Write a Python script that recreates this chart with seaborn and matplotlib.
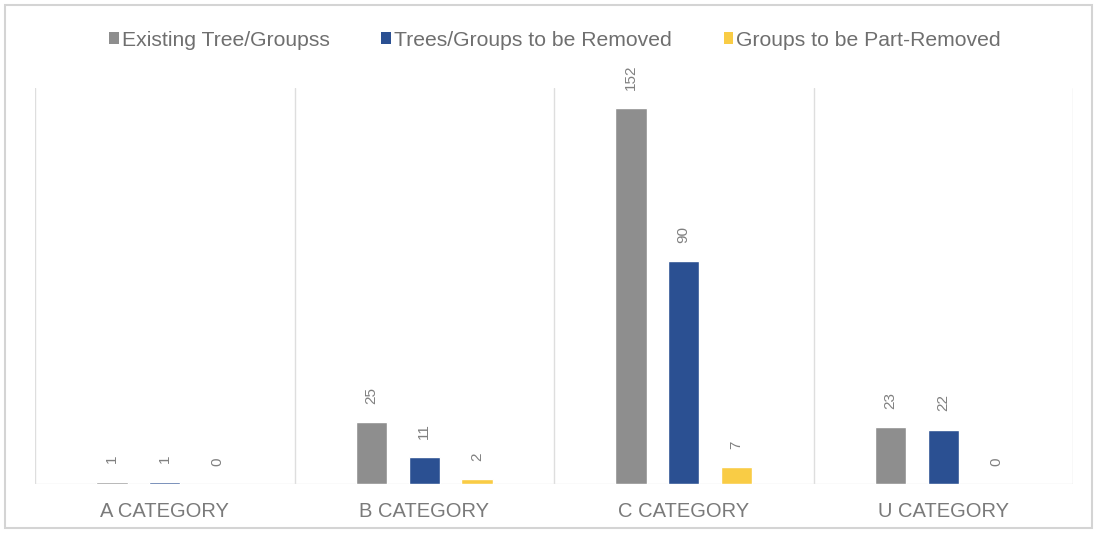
import matplotlib
matplotlib.use("Agg")
import matplotlib.pyplot as plt
from matplotlib.patches import Patch, Rectangle
import seaborn as sns
import pandas as pd

categories = ["A CATEGORY", "B CATEGORY", "C CATEGORY", "U CATEGORY"]
series = ["Existing Tree/Groupss", "Trees/Groups to be Removed", "Groups to be Part-Removed"]
existing = [1, 25, 152, 23]
removed = [1, 11, 90, 22]
part_removed = [0, 2, 7, 0]
colors = ["#8e8e8e", "#2b5092", "#f9cc45"]

df = pd.DataFrame({
    "category": categories * 3,
    "series": [series[0]] * 4 + [series[1]] * 4 + [series[2]] * 4,
    "value": existing + removed + part_removed,
})

sns.set_theme(style="white")
plt.rcParams["font.family"] = ["Liberation Sans", "DejaVu Sans"]

fig = plt.figure(figsize=(11.04, 5.36), dpi=100)
ax = fig.add_axes([35 / 1104, 1 - 484 / 536, 1038 / 1104, 396 / 536])

sns.barplot(data=df, x="category", y="value", hue="series", order=categories,
            hue_order=series, palette=colors, width=0.61, gap=0.41,
            saturation=1, legend=False, ax=ax)

ax.set_ylim(0, 160)
ax.set_xlim(-0.5, 3.5)
for s in ax.spines.values():
    s.set_visible(False)
ax.set_yticks([])
ax.set_xlabel("")
ax.set_ylabel("")
ax.tick_params(axis="x", length=0, pad=13, labelsize=14.5, labelcolor="#7a7a7a")

# category separators and baseline
for xb in [-0.5, 0.5, 1.5, 2.5, 3.5]:
    ax.axvline(xb, color="#dedede", lw=1.0, zorder=0)
ax.axhline(0, color="#e6e6e6", lw=1.0, zorder=0)

# value labels
for cont in ax.containers:
    for bar in cont:
        h = bar.get_height()
        ax.annotate(f"{int(round(h))}", (bar.get_x() + bar.get_width() / 2, h),
                    xytext=(0, 13), textcoords="offset points",
                    ha="center", va="bottom", rotation=90,
                    fontsize=11, color="#808080")

handles = [Patch(facecolor=c, edgecolor="none") for c in colors]
fig.legend(handles, series, loc="center", bbox_to_anchor=(555 / 1104, 1 - 40 / 536),
           ncol=3, frameon=False, fontsize=15.2, handlelength=0.45, handleheight=0.45,
           handletextpad=0.15, columnspacing=2.45, labelcolor="#6f6f6f")

# outer chart frame
fig.patches.append(Rectangle((5 / 1104, 1 - 528 / 536), 1087 / 1104, 523 / 536,
                             transform=fig.transFigure, fill=False,
                             edgecolor="#d4d4d4", lw=1.5))

fig.savefig("out.png", dpi=100)
